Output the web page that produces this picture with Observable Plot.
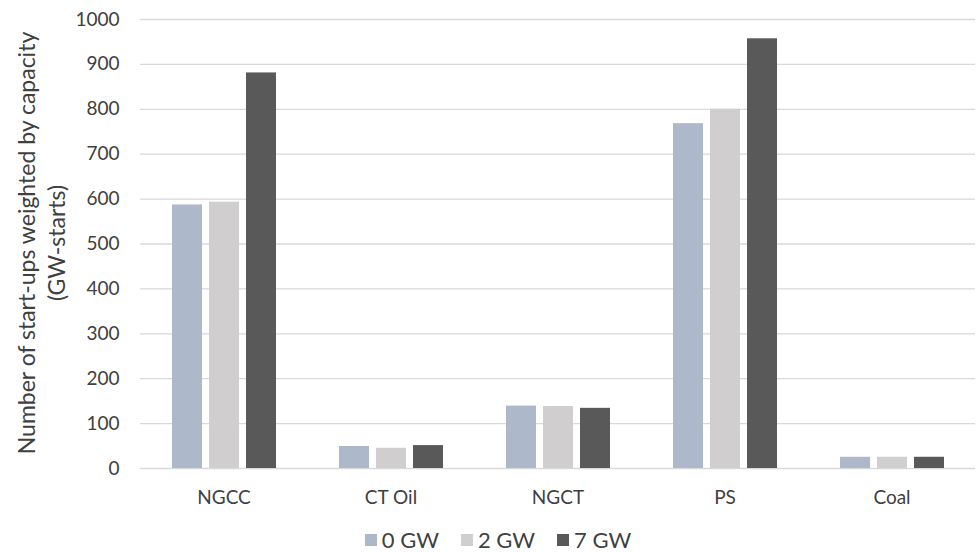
<!DOCTYPE html>
<html>
<head>
<meta charset="utf-8">
<script src="https://cdn.jsdelivr.net/npm/d3@7"></script>
<script src="https://cdn.jsdelivr.net/npm/@observablehq/plot@0.6"></script>
<style>
  html, body { margin: 0; padding: 0; background: #fff; }
  body { width: 976px; height: 552px; overflow: hidden; font-family: Lato, "Open Sans", sans-serif; }
  #chart { height: 500px; }
  #legend { display: flex; justify-content: center; align-items: center; gap: 22px; height: 22px; line-height: 22px; padding-top: 29px; font-size: 22px; color: #404040; margin-left: 20px; }
  #legend .item { display: flex; align-items: center; gap: 5px; }
  #legend .sw { width: 12px; height: 12px; display: inline-block; }
</style>
</head>
<body>
<div id="chart"></div>
<div id="legend"></div>
<script>
const categories = ["NGCC", "CT Oil", "NGCT", "PS", "Coal"];
const series = ["0 GW", "2 GW", "7 GW"];
const gw0 = [587, 49, 139, 768, 25];
const gw2 = [593, 45, 138, 800, 25];
const gw7 = [881, 51, 134, 957, 25];
const colors = ["#ADB9CA", "#D0CECE", "#595959"];
const yTicks = [0, 100, 200, 300, 400, 500, 600, 700, 800, 900, 1000];
const yTitle = ["Number of start-ups weighted by capacity", "(GW-starts)"];

const valuesBySeries = [gw0, gw2, gw7];
const data = [];
categories.forEach((c, i) => {
  series.forEach((s, j) => data.push({category: c, series: s, value: valuesBySeries[j][i]}));
});

const plot = Plot.plot({
  width: 976,
  height: 500,
  marginLeft: 139,
  marginRight: 0,
  marginTop: 19,
  marginBottom: 32,
  style: {fontFamily: "Lato, 'Open Sans', sans-serif", color: "#404040", background: "#fff", overflow: "visible", display: "block"},
  fx: {domain: categories, paddingInner: 0, paddingOuter: 0, label: null},
  x: {domain: series, paddingInner: 0.2, paddingOuter: 0.82, axis: null},
  y: {domain: [0, 1000], label: null},
  color: {domain: series, range: colors},
  marks: [
    Plot.ruleY(yTicks, {stroke: "#d9d9d9", strokeWidth: 1.3}),
    Plot.barY(data, {fx: "category", x: "series", y: "value", fill: "series"}),
    Plot.axisY(yTicks, {tickSize: 0, tickPadding: 21, tickFormat: d => String(d), fontSize: 19, label: null}),
    Plot.axisFx({anchor: "bottom", tickSize: 0, tickPadding: 22, fontSize: 19, label: null})
  ]
});
document.getElementById("chart").appendChild(plot);

// two-line y-axis title
const svg = d3.select(plot);
const t = svg.append("text")
  .attr("transform", "translate(27,243) rotate(-90)")
  .attr("text-anchor", "middle")
  .attr("fill", "#404040")
  .attr("font-size", 23)
  .attr("font-family", "Lato, 'Open Sans', sans-serif");
yTitle.forEach((line, i) => t.append("tspan").attr("x", 0).attr("dy", i === 0 ? "0.35em" : "30").text(line));

const legend = d3.select("#legend");
series.forEach((s, i) => {
  const it = legend.append("div").attr("class", "item");
  it.append("span").attr("class", "sw").style("background", colors[i]);
  it.append("span").text(s);
});
</script>
</body>
</html>
